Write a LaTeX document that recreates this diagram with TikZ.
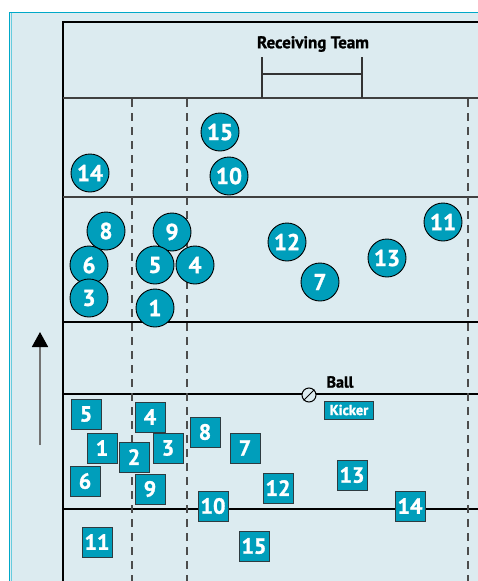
\documentclass[tikz,border=0pt]{standalone}
\usepackage{fontspec}
\setmainfont{PT Sans}
\newfontfamily\heavy{PT Sans Bold}[FakeBold=1.3]
\usetikzlibrary{arrows.meta}
\definecolor{teal1}{HTML}{009EBB}
\definecolor{bgblue}{HTML}{DCEBF0}
\definecolor{edgeteal}{HTML}{00A8C8}
\definecolor{sqedge}{HTML}{2E3B40}
\tikzset{
  player/.style={circle, fill=teal1, draw=black, line width=0.9pt, minimum size=38pt, inner sep=0pt, text=white, font=\heavy\fontsize{23}{23}\selectfont},
  kickp/.style={rectangle, fill=teal1, draw=sqedge, line width=1pt, minimum size=30pt, inner sep=0pt, text=white, font=\heavy\fontsize{22}{22}\selectfont},
  fieldline/.style={line width=1.1pt, draw=black},
  dashline/.style={line width=1.1pt, draw=black!70, dash pattern=on 8pt off 6pt},
  label/.style={font=\heavy\fontsize{17}{17}\selectfont, text=black, inner sep=0pt}
}
\begin{document}
\begin{tikzpicture}[x=1pt,y=-1pt]
\useasboundingbox (0,0) rectangle (478,581);
% panel
\fill[bgblue] (9,12) rectangle (478,581);
\draw[edgeteal, line width=1.5pt] (478,12.5) -- (9.5,12.5) -- (9.5,581);
\draw[edgeteal!60, line width=1pt] (11,13) -- (11,581);
% field
\draw[fieldline] (478,22) -- (63,22) -- (63,581);
\foreach \yy in {98,197}{\draw[line width=1.4pt, draw=black!75] (63,\yy) -- (478,\yy);}
\foreach \yy in {322,394,509}{\draw[fieldline] (63,\yy) -- (478,\yy);}
\foreach \xx in {132,187,468}{\draw[dashline] (\xx,99) -- (\xx,581);}
% goal posts
\coordinate (gl) at (262,57); \coordinate (glb) at (262,98);
\coordinate (gr) at (362,57); \coordinate (grb) at (362,98);
\coordinate (cbl) at (262,74); \coordinate (cbr) at (362,74);
\draw[line width=1.2pt, black!80] (gl) -- (glb) (gr) -- (grb) (cbl) -- (cbr);
\node[label] (recv) at (313,44) {Receiving Team};
% arrow
\coordinate (arrA) at (40,445);
\coordinate (arrB) at (40,332);
\draw[line width=1.8pt, black!55, -{Triangle[length=15pt,width=16pt,color=black]}] (arrA) -- (arrB);
% receiving team (circles)
\node[player] (c15) at (220,132) {15};
\node[player] (c14) at (90,173) {14};
\node[player] (c10) at (229,176) {10};
\node[player] (c8) at (106,231) {8};
\node[player] (c9) at (172,232) {9};
\node[player] (c6) at (89,265) {6};
\node[player] (c5) at (155,265) {5};
\node[player] (c4) at (195,265) {4};
\node[player] (c3) at (89,298) {3};
\node[player] (c1) at (155,308) {1};
\node[player] (c12) at (287,242) {12};
\node[player] (c7) at (320,282) {7};
\node[player] (c13) at (387,258) {13};
\node[player] (c11) at (443,222) {11};
% ball and kicker
\node[circle, draw=black, fill=bgblue, line width=1pt, minimum size=14pt, inner sep=0pt] (ball) at (309,395) {};
\draw[line width=1pt] (ball.south west) -- (ball.north east);
\node[label, font=\heavy\fontsize{16}{16}\selectfont] (balllbl) at (340,382) {Ball};
\node[rectangle, fill=teal1, draw=sqedge, line width=1pt, minimum width=49pt, minimum height=18pt, inner sep=0pt, text=white, font=\heavy\fontsize{14.5}{14.5}\selectfont] (kicker) at (349,410) {Kicker};
% kicking team (squares)
\node[kickp] (s5) at (86,414) {5};
\node[kickp] (s4) at (150,417) {4};
\node[kickp] (s1) at (102,448) {1};
\node[kickp] (s2) at (134,457) {2};
\node[kickp] (s3) at (168,448) {3};
\node[kickp] (s8) at (205,432) {8};
\node[kickp] (s7) at (245,448) {7};
\node[kickp] (s6) at (85,481) {6};
\node[kickp] (s9) at (150,489) {9};
\node[kickp] (s10) at (213,506) {10};
\node[kickp] (s12) at (278,488) {12};
\node[kickp] (s13) at (352,475) {13};
\node[kickp] (s14) at (410,506) {14};
\node[kickp] (s11) at (97,542) {11};
\node[kickp] (s15) at (254,546) {15};
\end{tikzpicture}
\end{document}
